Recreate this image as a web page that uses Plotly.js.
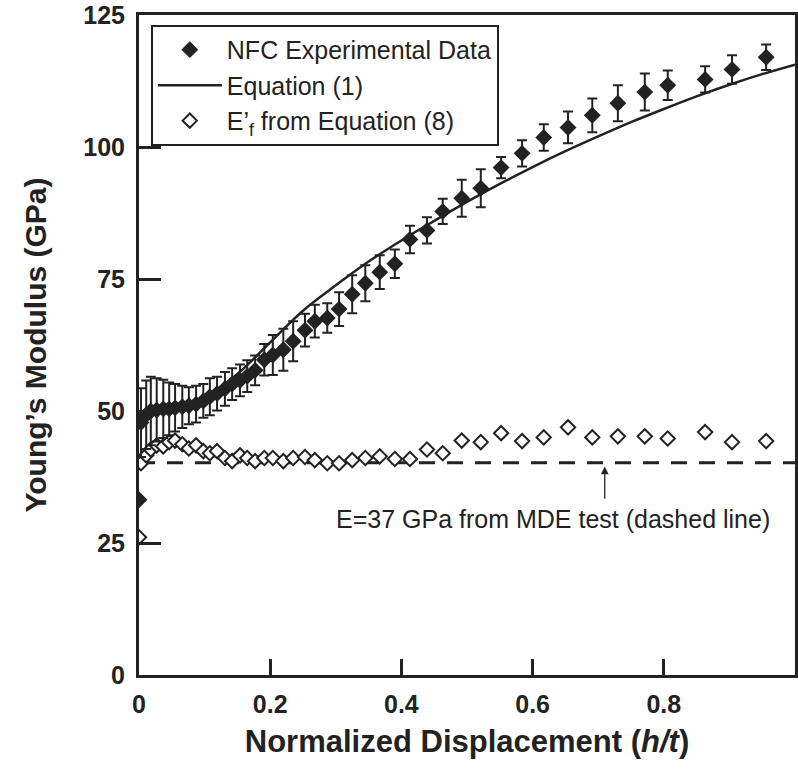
<!DOCTYPE html>
<html>
<head>
<meta charset="utf-8">
<script src="https://cdn.plot.ly/plotly-3.0.1.min.js"></script>
<style>html,body{margin:0;padding:0;background:#fff;}#chart{width:798px;height:775px;}</style>
</head>
<body>
<div id="chart"></div>
<script>
// Normalized displacement (h/t) shared by both point series
const xPoints = [0.000,0.003,0.011,0.018,0.027,0.037,0.046,0.055,0.066,0.076,0.087,0.098,0.108,0.119,0.131,0.142,0.154,0.165,0.177,0.191,0.204,0.220,0.235,0.253,0.268,0.287,0.305,0.325,0.345,0.367,0.390,0.413,0.439,0.463,0.492,0.521,0.552,0.584,0.617,0.654,0.691,0.730,0.771,0.806,0.863,0.904,0.956];
// NFC experimental data (GPa)
const nfcValues = [33.2,47.8,49.3,50.0,50.2,50.4,50.4,50.6,50.8,51.0,51.3,51.9,52.7,53.3,54.2,55.1,55.8,56.6,57.7,59.7,60.6,61.6,63.2,65.3,67.0,67.6,69.3,72.1,74.2,76.3,77.9,82.5,84.2,87.8,90.3,92.2,96.1,98.8,101.8,103.7,106.0,108.3,110.4,111.7,112.8,114.7,117.0];
const nfcErrors = [0,6.5,6.5,6.5,6.0,5.5,5.0,4.5,4.0,3.5,3.5,3.2,3.5,3.2,3.2,3.0,3.0,3.0,2.8,3.0,3.8,4.0,3.8,3.1,3.1,2.8,3.2,3.6,3.4,3.2,2.7,2.6,2.5,2.4,3.5,3.6,2.0,2.5,2.5,3.0,3.2,3.4,3.5,2.8,2.5,2.7,2.4];
// E'f from Equation (8) (GPa)
const efValues = [26.1,40.1,41.6,42.7,43.5,43.3,44.1,44.4,43.7,42.9,43.5,42.4,42.0,42.4,41.1,40.5,41.6,41.1,40.5,41.1,41.1,40.5,41.1,41.3,40.7,40.1,40.1,40.7,41.1,41.4,40.9,40.9,42.7,42.0,44.4,44.1,45.8,44.3,45.0,46.9,45.0,45.2,45.2,44.8,46.0,44.1,44.3];
// Equation (1) curve
const xCurve = [0,0.05,0.1,0.15,0.2,0.25,0.3,0.35,0.4,0.45,0.5,0.55,0.6,0.65,0.7,0.75,0.8,0.85,0.9,0.95,1.0];
const yCurve = [49.8,50.3,52.5,57.0,63.0,69.0,73.8,78.3,82.3,86.0,89.6,93.0,96.2,99.2,102.0,104.7,107.2,109.6,111.8,113.8,115.6];
// MDE dashed line
const xMde = [0, 1];
const yMde = [40.2, 40.2];
// Ticks
const xTickVals = [0,0.2,0.4,0.6,0.8,1];
const xTickText = ['0','0.2','0.4','0.6','0.8','1'];
const yTickVals = [0,25,50,75,100,125];
const yTickText = ['0','25','50','75','100','125'];

const ink = '#222';
const FONT = 'Liberation Sans, Arial, sans-serif';

const traces = [
  {x: xMde, y: yMde, mode: 'lines', showlegend: false, hoverinfo: 'skip',
   line: {color: ink, width: 3, dash: '16px,12px'}},
  {x: xCurve, y: yCurve, mode: 'lines', name: 'Equation (1)', legendgroup: 'g2', legendrank: 2,
   line: {color: ink, width: 2.5, shape: 'spline'}},
  {x: xPoints, y: efValues, mode: 'markers', name: 'E\u2019<sub>f</sub> from Equation (8)', legendgroup: 'g3', legendrank: 3,
   marker: {symbol: 'diamond', size: 11, color: '#fff', line: {color: ink, width: 2}}},
  {x: xPoints, y: nfcValues, mode: 'markers', name: 'NFC Experimental Data', legendgroup: 'g1', legendrank: 1,
   marker: {symbol: 'diamond', size: 13, color: ink},
   error_y: {type: 'data', array: nfcErrors, visible: true, color: ink, thickness: 2, width: 5}}
];

const layout = {
  width: 798, height: 775,
  margin: {l: 139, r: 3, t: 15, b: 100},
  paper_bgcolor: '#fff', plot_bgcolor: '#fff',
  font: {family: FONT, color: ink},
  showlegend: true,
  legend: {x: 0.018, y: 0.985, xanchor: 'left', yanchor: 'top',
    bgcolor: '#fff', bordercolor: ink, borderwidth: 2,
    font: {family: FONT, size: 25, color: ink},
    traceorder: 'grouped', tracegroupgap: 0, itemsizing: 'trace', itemwidth: 64},
  xaxis: {range: [0, 1], tickvals: xTickVals, ticktext: xTickText,
    ticks: 'inside', ticklen: 16, tickwidth: 3, tickcolor: ink,
    showline: true, linewidth: 3, linecolor: ink, mirror: true,
    showgrid: false, zeroline: false, ticklabelstandoff: 5,
    tickfont: {family: FONT, size: 25, color: ink, weight: 'bold'},
    title: {text: 'Normalized Displacement (<i>h/t</i>)', standoff: 14,
      font: {family: FONT, size: 31, color: ink, weight: 'bold'}}},
  yaxis: {range: [0, 125], tickvals: yTickVals, ticktext: yTickText,
    ticks: 'inside', ticklen: 22, tickwidth: 3, tickcolor: ink,
    showline: true, linewidth: 3, linecolor: ink, mirror: true,
    showgrid: false, zeroline: false, ticklabelstandoff: 6,
    tickfont: {family: FONT, size: 25, color: ink, weight: 'bold'},
    title: {text: 'Young\u2019s Modulus (GPa)', standoff: 28,
      font: {family: FONT, size: 30, color: ink, weight: 'bold'}}},
  annotations: [
    {x: 0.631, y: 29.5, xref: 'x', yref: 'y', text: 'E=37 GPa from MDE test (dashed line)',
     showarrow: false, font: {family: FONT, size: 25, color: ink}},
    {x: 0.71, y: 39.5, xref: 'x', yref: 'y', ax: 0.71, ay: 33.1, axref: 'x', ayref: 'y',
     text: '', showarrow: true, arrowhead: 2, arrowsize: 1.2, arrowwidth: 1.3, arrowcolor: ink}
  ]
};

Plotly.newPlot('chart', traces, layout, {displayModeBar: false, staticPlot: true});
</script>
</body>
</html>
